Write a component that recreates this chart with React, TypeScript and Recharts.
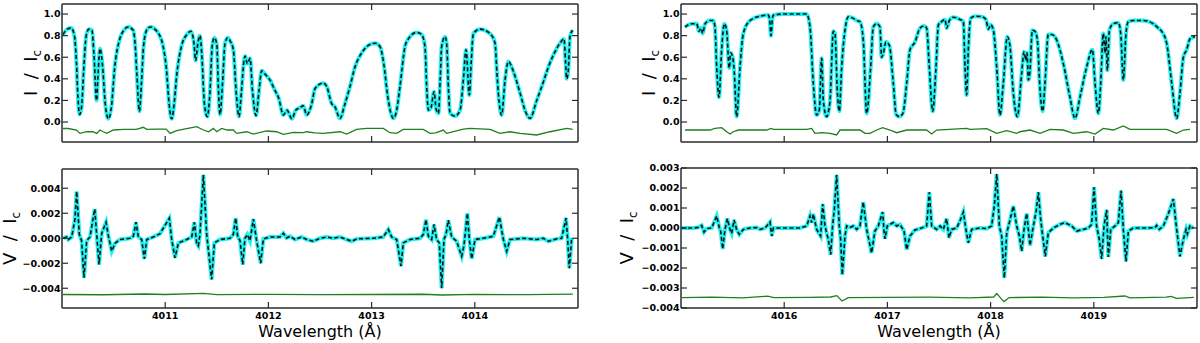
import React from "react";
import { LineChart, Line, XAxis, YAxis } from "recharts";

type Pt = [number, number];

// axis ticks
const leftWaveTicks = [4011, 4012, 4013, 4014];
const rightWaveTicks = [4016, 4017, 4018, 4019];
const intensityTicks = [0, 0.2, 0.4, 0.6, 0.8, 1.0];
const stokesTicksLeft = [-0.004, -0.002, 0, 0.002, 0.004];
const stokesTicksRight = [-0.004, -0.003, -0.002, -0.001, 0, 0.001, 0.002, 0.003];

// Stokes I, 4010-4015 A (observed and fit share this profile)
const iLeft: Pt[] = [
  [4010.01, 0.81], [4010.05, 0.86], [4010.09, 0.87], [4010.12, 0.8], [4010.14, 0.55],
  [4010.155, 0.22], [4010.17, 0.07], [4010.19, 0.14], [4010.21, 0.48], [4010.235, 0.8],
  [4010.26, 0.86], [4010.29, 0.85], [4010.31, 0.62], [4010.335, 0.2], [4010.35, 0.45],
  [4010.368, 0.68], [4010.39, 0.55], [4010.42, 0.16], [4010.45, 0.03], [4010.48, 0.15],
  [4010.51, 0.5], [4010.56, 0.77], [4010.6, 0.85], [4010.64, 0.88], [4010.69, 0.85],
  [4010.71, 0.7], [4010.725, 0.45], [4010.75, 0.1], [4010.77, 0.36], [4010.79, 0.7],
  [4010.82, 0.85], [4010.855, 0.88], [4010.92, 0.84], [4010.98, 0.7], [4011.01, 0.51],
  [4011.04, 0.15], [4011.063, 0.03], [4011.09, 0.2], [4011.11, 0.42], [4011.16, 0.71],
  [4011.21, 0.81], [4011.25, 0.84], [4011.28, 0.72], [4011.295, 0.57], [4011.315, 0.72],
  [4011.337, 0.8], [4011.355, 0.62], [4011.38, 0.17], [4011.408, 0.05], [4011.435, 0.3],
  [4011.455, 0.7], [4011.476, 0.78], [4011.5, 0.72], [4011.515, 0.32], [4011.531, 0.07],
  [4011.555, 0.35], [4011.58, 0.73], [4011.605, 0.78], [4011.63, 0.75], [4011.66, 0.67],
  [4011.69, 0.25], [4011.715, 0.05], [4011.74, 0.3], [4011.765, 0.58], [4011.775, 0.61],
  [4011.796, 0.54], [4011.822, 0.59], [4011.845, 0.3], [4011.88, 0.06], [4011.91, 0.3],
  [4011.935, 0.475], [4011.97, 0.44], [4012.015, 0.39], [4012.06, 0.3], [4012.1, 0.22],
  [4012.145, 0.065], [4012.18, 0.11], [4012.228, 0.03], [4012.265, 0.11], [4012.3, 0.13],
  [4012.338, 0.15], [4012.371, 0.065], [4012.42, 0.17], [4012.452, 0.31], [4012.532, 0.36],
  [4012.565, 0.33], [4012.613, 0.17], [4012.645, 0.14], [4012.694, 0.034], [4012.742, 0.17],
  [4012.791, 0.33], [4012.839, 0.51], [4012.904, 0.64], [4012.968, 0.71], [4013.033, 0.73],
  [4013.081, 0.7], [4013.113, 0.57], [4013.162, 0.2], [4013.211, 0.034], [4013.243, 0.11],
  [4013.275, 0.33], [4013.324, 0.7], [4013.356, 0.77], [4013.437, 0.83], [4013.485, 0.81],
  [4013.517, 0.7], [4013.535, 0.3], [4013.55, 0.11], [4013.575, 0.13], [4013.605, 0.28],
  [4013.625, 0.12], [4013.647, 0.08], [4013.665, 0.4], [4013.679, 0.7], [4013.711, 0.79],
  [4013.727, 0.73], [4013.745, 0.3], [4013.76, 0.08], [4013.808, 0.055], [4013.857, 0.11],
  [4013.89, 0.4], [4013.915, 0.67], [4013.947, 0.25], [4013.965, 0.55], [4013.986, 0.82],
  [4014.05, 0.86], [4014.147, 0.82], [4014.196, 0.73], [4014.215, 0.45], [4014.228, 0.27],
  [4014.26, 0.065], [4014.293, 0.39], [4014.325, 0.56], [4014.373, 0.47], [4014.438, 0.27],
  [4014.49, 0.1], [4014.535, 0.034], [4014.6, 0.2], [4014.664, 0.37], [4014.713, 0.51],
  [4014.761, 0.62], [4014.826, 0.73], [4014.864, 0.77], [4014.88, 0.55], [4014.89, 0.4],
  [4014.906, 0.48], [4014.922, 0.79], [4014.948, 0.85],
];

const iLeftResid: Pt[] = [
  [4010.01, -0.06], [4010.06, -0.06], [4010.14, -0.074], [4010.174, -0.105], [4010.24, -0.09],
  [4010.3, -0.09], [4010.336, -0.105], [4010.368, -0.074], [4010.4, -0.09], [4010.433, -0.105],
  [4010.498, -0.074], [4010.6, -0.068], [4010.72, -0.068], [4010.788, -0.049], [4010.82, -0.068],
  [4010.92, -0.065], [4011.01, -0.065], [4011.047, -0.105], [4011.111, -0.08], [4011.208, -0.062],
  [4011.305, -0.043], [4011.37, -0.074], [4011.42, -0.09], [4011.467, -0.059], [4011.5, -0.09],
  [4011.547, -0.059], [4011.6, -0.074], [4011.66, -0.074], [4011.693, -0.105], [4011.79, -0.09],
  [4011.854, -0.111], [4011.983, -0.083], [4012.08, -0.09], [4012.145, -0.114], [4012.242, -0.096],
  [4012.338, -0.099], [4012.371, -0.09], [4012.45, -0.1], [4012.532, -0.105], [4012.694, -0.09],
  [4012.758, -0.111], [4012.855, -0.068], [4012.952, -0.059], [4013.113, -0.059], [4013.178, -0.099],
  [4013.243, -0.105], [4013.307, -0.068], [4013.5, -0.068], [4013.566, -0.105], [4013.62, -0.1],
  [4013.695, -0.074], [4013.727, -0.105], [4013.889, -0.065], [4013.953, -0.059], [4014.147, -0.068],
  [4014.244, -0.105], [4014.34, -0.09], [4014.438, -0.105], [4014.6, -0.12], [4014.729, -0.09],
  [4014.89, -0.059], [4014.948, -0.068],
];

// Stokes V, 4010-4015 A
const vLeft: Pt[] = [
  [4010.013, 0], [4010.045, 0.0001], [4010.061, -0.0001], [4010.094, 0.0001], [4010.125, 0.0015],
  [4010.142, 0.00375], [4010.168, 0.0003], [4010.19, -0.0002], [4010.213, -0.00316], [4010.239, -0.0002],
  [4010.271, 0.0001], [4010.317, 0.00234], [4010.336, 0.0003], [4010.359, -0.0021], [4010.385, 0.0004],
  [4010.427, 0.00128], [4010.45, 0.00016], [4010.482, -0.00104], [4010.514, -0.0004], [4010.562, -0.0001],
  [4010.659, 0], [4010.691, 0.00016], [4010.717, 0.00128], [4010.74, 0.0001], [4010.772, -0.0001],
  [4010.798, -0.00165], [4010.821, -0.0001], [4010.885, 0.0001], [4010.95, 0.00037], [4011.04, 0.0016],
  [4011.063, -0.0001], [4011.095, -0.00157], [4011.128, -0.00037], [4011.208, -0.0001], [4011.257, 0.0001],
  [4011.283, 0.00128], [4011.305, -0.0004], [4011.321, -0.0006], [4011.337, 0.0003], [4011.37, 0.00508],
  [4011.402, 0.0003], [4011.45, -0.0033], [4011.476, -0.00037], [4011.531, -0.0001], [4011.628, 0],
  [4011.66, 0.0003], [4011.683, 0.00162], [4011.702, 0.00016], [4011.725, -0.0002], [4011.751, -0.0021],
  [4011.773, 0], [4011.796, 0.0003], [4011.822, -0.0002], [4011.854, 0.00154], [4011.886, -0.0002],
  [4011.925, -0.002], [4011.951, -0.00005], [4012.015, 0.0001], [4012.112, 0.0001], [4012.145, 0.0004],
  [4012.177, 0.00003], [4012.209, 0.00016], [4012.258, -0.0001], [4012.322, 0.0001], [4012.371, -0.0001],
  [4012.436, -0.00024], [4012.5, 0], [4012.565, 0.0001], [4012.629, 0], [4012.694, 0.0001],
  [4012.758, -0.0001], [4012.807, -0.00024], [4012.855, -0.00005], [4013.017, 0], [4013.113, 0.0001],
  [4013.162, 0.0007], [4013.194, 0.0001], [4013.243, -0.0001], [4013.285, -0.00223], [4013.307, -0.00037],
  [4013.372, -0.0001], [4013.469, 0], [4013.501, 0.0003], [4013.527, 0.0015], [4013.55, 0.00016],
  [4013.582, -0.0001], [4013.605, 0.0011], [4013.63, -0.0001], [4013.656, -0.00037], [4013.679, -0.004],
  [4013.701, -0.0001], [4013.721, 0.0003], [4013.743, 0.00144], [4013.776, 0.0001], [4013.824, -0.00024],
  [4013.873, -0.00144], [4013.895, -0.0006], [4013.928, 0.002], [4013.947, -0.0001], [4013.97, -0.00165],
  [4014.002, -0.0001], [4014.083, 0], [4014.18, 0.00016], [4014.238, 0.0017], [4014.277, -0.0001],
  [4014.309, -0.00104], [4014.341, -0.0001], [4014.47, 0], [4014.6, -0.0001], [4014.664, 0],
  [4014.713, -0.00024], [4014.794, -0.00005], [4014.842, 0], [4014.884, 0.00162], [4014.9, -0.0001],
  [4014.916, -0.0024], [4014.938, -0.0001], [4014.948, 0],
];

const vLeftResid: Pt[] = [
  [4010.01, -0.0045], [4010.4, -0.00452], [4010.8, -0.00446], [4011.0, -0.0045], [4011.37, -0.00441],
  [4011.5, -0.00451], [4012.0, -0.00449], [4012.5, -0.00451], [4013.0, -0.0045], [4013.5, -0.00448],
  [4013.68, -0.00454], [4014.0, -0.00449], [4014.5, -0.00451], [4014.95, -0.00447],
];

// Stokes I, 4015-4020 A
const iRight: Pt[] = [
  [4015.039, 0.88], [4015.103, 0.91], [4015.152, 0.91], [4015.174, 0.84], [4015.194, 0.87],
  [4015.21, 0.82], [4015.233, 0.91], [4015.281, 0.94], [4015.313, 0.94], [4015.329, 0.88],
  [4015.346, 0.51], [4015.368, 0.23], [4015.394, 0.67], [4015.42, 0.91], [4015.442, 0.85],
  [4015.468, 0.5], [4015.481, 0.64], [4015.501, 0.6], [4015.517, 0.45], [4015.539, 0.05],
  [4015.572, 0.51], [4015.604, 0.82], [4015.669, 0.94], [4015.766, 0.98], [4015.846, 0.99],
  [4015.859, 0.95], [4015.872, 0.8], [4015.885, 0.95], [4015.895, 0.99], [4015.992, 1.0],
  [4016.218, 1.0], [4016.25, 0.88], [4016.282, 0.36], [4016.314, 0.065], [4016.34, 0.11],
  [4016.363, 0.59], [4016.379, 0.2], [4016.411, 0.05], [4016.444, 0.2], [4016.476, 0.84],
  [4016.492, 0.82], [4016.515, 0.28], [4016.534, 0.1], [4016.557, 0.51], [4016.589, 0.85],
  [4016.621, 0.975], [4016.67, 0.96], [4016.702, 0.94], [4016.734, 0.93], [4016.766, 0.76],
  [4016.799, 0.08], [4016.838, 0.51], [4016.863, 0.88], [4016.896, 0.91], [4016.928, 0.88],
  [4016.944, 0.6], [4016.961, 0.64], [4016.986, 0.74], [4017.019, 0.71], [4017.057, 0.36],
  [4017.085, 0.07], [4017.115, 0.05], [4017.15, 0.08], [4017.187, 0.36], [4017.219, 0.67],
  [4017.267, 0.74], [4017.316, 0.87], [4017.355, 0.89], [4017.38, 0.87], [4017.406, 0.51],
  [4017.439, 0.1], [4017.471, 0.51], [4017.494, 0.9], [4017.526, 0.93], [4017.558, 0.95],
  [4017.574, 0.87], [4017.6, 0.94], [4017.639, 0.97], [4017.703, 0.95], [4017.736, 0.93],
  [4017.752, 0.51], [4017.768, 0.25], [4017.784, 0.67], [4017.807, 0.96], [4017.849, 0.98],
  [4017.913, 0.975], [4017.955, 0.95], [4017.978, 0.86], [4018.001, 0.9], [4018.027, 0.85],
  [4018.059, 0.51], [4018.091, 0.065], [4018.123, 0.36], [4018.162, 0.79], [4018.188, 0.7],
  [4018.22, 0.27], [4018.259, 0.05], [4018.301, 0.45], [4018.324, 0.65], [4018.343, 0.57],
  [4018.353, 0.64], [4018.366, 0.39], [4018.382, 0.48], [4018.404, 0.85], [4018.43, 0.84],
  [4018.453, 0.76], [4018.479, 0.3], [4018.504, 0.1], [4018.527, 0.36], [4018.559, 0.81],
  [4018.592, 0.81], [4018.64, 0.76], [4018.705, 0.54], [4018.769, 0.23], [4018.818, 0.034],
  [4018.866, 0.23], [4018.931, 0.51], [4018.986, 0.67], [4019.012, 0.36], [4019.044, 0.08],
  [4019.067, 0.36], [4019.092, 0.82], [4019.109, 0.64], [4019.118, 0.79], [4019.131, 0.48],
  [4019.151, 0.85], [4019.189, 0.91], [4019.238, 0.92], [4019.261, 0.82], [4019.286, 0.39],
  [4019.312, 0.82], [4019.335, 0.93], [4019.383, 0.94], [4019.48, 0.94], [4019.577, 0.91],
  [4019.625, 0.87], [4019.658, 0.84], [4019.706, 0.73], [4019.755, 0.36], [4019.803, 0.034],
  [4019.835, 0.27], [4019.868, 0.6], [4019.9, 0.67], [4019.932, 0.77], [4019.981, 0.79],
];

const iRightResid: Pt[] = [
  [4015.039, -0.074], [4015.281, -0.074], [4015.329, -0.059], [4015.394, -0.052], [4015.442, -0.09],
  [4015.475, -0.111], [4015.507, -0.09], [4015.555, -0.074], [4015.83, -0.074], [4015.872, -0.059],
  [4015.895, -0.068], [4016.218, -0.068], [4016.266, -0.059], [4016.298, -0.105], [4016.363, -0.099],
  [4016.444, -0.105], [4016.508, -0.12], [4016.541, -0.074], [4016.734, -0.074], [4016.783, -0.105],
  [4016.831, -0.105], [4016.896, -0.074], [4016.954, -0.052], [4017.025, -0.074], [4017.09, -0.099],
  [4017.187, -0.074], [4017.38, -0.074], [4017.429, -0.111], [4017.477, -0.074], [4017.768, -0.059],
  [4017.8, -0.068], [4017.962, -0.062], [4018.059, -0.105], [4018.156, -0.08], [4018.253, -0.105],
  [4018.285, -0.09], [4018.382, -0.074], [4018.479, -0.105], [4018.576, -0.068], [4018.705, -0.074],
  [4018.802, -0.105], [4018.931, -0.09], [4019.012, -0.111], [4019.092, -0.059], [4019.189, -0.074],
  [4019.286, -0.037], [4019.351, -0.068], [4019.706, -0.068], [4019.803, -0.105], [4019.868, -0.074],
  [4019.932, -0.068],
];

// Stokes V, 4015-4020 A
const vRight: Pt[] = [
  [4015.006, 0], [4015.119, 0], [4015.168, 0.00003], [4015.2, 0.00013], [4015.223, -0.0002],
  [4015.249, -0.00003], [4015.297, 0], [4015.346, 0.0006], [4015.372, 0], [4015.384, -0.00015],
  [4015.404, -0.00105], [4015.426, -0.00007], [4015.449, 0.00047], [4015.475, -0.00007], [4015.491, -0.00027],
  [4015.514, 0.0004], [4015.539, -0.00007], [4015.565, -0.00032], [4015.604, -0.00007], [4015.669, 0],
  [4015.734, 0.00002], [4015.766, -0.00007], [4015.814, 0], [4015.863, 0.0003], [4015.879, -0.0004],
  [4015.895, 0], [4016.153, 0], [4016.218, 0.0001], [4016.25, 0.0006], [4016.266, 0.00027],
  [4016.282, 0.0007], [4016.314, -0.00007], [4016.353, -0.0004], [4016.373, 0.0012], [4016.395, 0.0001],
  [4016.427, -0.00057], [4016.45, -0.00133], [4016.469, 0.0001], [4016.486, 0.00094], [4016.508, 0.00266],
  [4016.534, 0.0001], [4016.547, -0.00057], [4016.563, -0.00234], [4016.589, -0.0004], [4016.605, 0.0001],
  [4016.637, 0.00002], [4016.67, 0.0001], [4016.702, -0.00007], [4016.734, 0.0001], [4016.766, 0.0013],
  [4016.799, -0.00007], [4016.847, -0.00125], [4016.879, -0.00015], [4016.912, 0.0001], [4016.954, 0.0008],
  [4016.967, -0.00015], [4016.977, -0.00054], [4016.999, 0.0001], [4017.025, 0.00018], [4017.057, 0.00027],
  [4017.09, 0.0001], [4017.122, 0.00017], [4017.161, -0.00015], [4017.187, -0.00108], [4017.219, -0.0004],
  [4017.267, -0.0001], [4017.316, -0.00003], [4017.38, 0.0001], [4017.406, 0.00179], [4017.429, 0.0001],
  [4017.477, -0.00007], [4017.51, 0.0001], [4017.542, -0.00007], [4017.574, 0.00047], [4017.597, -0.00049],
  [4017.623, -0.00007], [4017.671, 0], [4017.703, 0.00035], [4017.736, 0.0008], [4017.761, -0.00007],
  [4017.784, -0.00074], [4017.817, -0.00007], [4017.897, 0], [4017.962, -0.00003], [4018.01, 0.0001],
  [4018.036, 0.0011], [4018.059, 0.0027], [4018.085, 0.0001], [4018.107, -0.0004], [4018.133, -0.0025],
  [4018.156, -0.00024], [4018.182, 0.00027], [4018.22, 0.0011], [4018.253, 0.0001], [4018.279, -0.0004],
  [4018.301, -0.00116], [4018.324, -0.00007], [4018.35, 0.00073], [4018.366, -0.00007], [4018.382, -0.00088],
  [4018.414, 0.0001], [4018.44, 0.00078], [4018.463, 0.00179], [4018.485, 0.00044], [4018.505, -0.0004],
  [4018.53, -0.00142], [4018.559, -0.00024], [4018.608, 0], [4018.672, 0.00018], [4018.72, 0.00027],
  [4018.785, 0.0001], [4018.834, -0.00015], [4018.898, -0.00007], [4018.947, 0], [4018.979, 0.00018],
  [4019.002, 0.00204], [4019.027, 0.0001], [4019.053, -0.00057], [4019.076, -0.00155], [4019.099, 0.0001],
  [4019.125, 0.00091], [4019.134, -0.00057], [4019.141, -0.00145], [4019.164, -0.00007], [4019.206, 0.0001],
  [4019.238, 0.00027], [4019.264, 0.00187], [4019.286, -0.00007], [4019.312, -0.00167], [4019.335, -0.00015],
  [4019.383, 0], [4019.512, 0], [4019.593, 0.00002], [4019.609, 0.00013], [4019.635, -0.00007],
  [4019.674, 0.0001], [4019.722, 0.0007], [4019.771, 0.00145], [4019.803, -0.00007], [4019.835, -0.00142],
  [4019.868, -0.00057], [4019.894, -0.00007], [4019.906, -0.0003], [4019.932, 0.0001], [4019.965, 0],
];

const vRightResid: Pt[] = [
  [4015.01, -0.00348], [4015.3, -0.00346], [4015.6, -0.00349], [4015.84, -0.00341], [4015.9, -0.00348],
  [4016.25, -0.00347], [4016.45, -0.00345], [4016.51, -0.00338], [4016.56, -0.00365], [4016.62, -0.00348],
  [4017.0, -0.00347], [4017.4, -0.00346], [4017.8, -0.00349], [4018.03, -0.00345], [4018.06, -0.00328],
  [4018.1, -0.00352], [4018.13, -0.00368], [4018.18, -0.00348], [4018.5, -0.00346], [4018.8, -0.00349],
  [4019.1, -0.00347], [4019.3, -0.0034], [4019.35, -0.00349], [4019.7, -0.00346], [4019.75, -0.00342],
  [4019.8, -0.00352], [4019.97, -0.00347],
];

const rows = (pts: Pt[]) => pts.map(([w, v]) => ({ w, v }));

const FRAME = "#2b2b2b";
const TICK = 6;
const Y_AXIS_W = 72; // room for tick labels and the rotated axis title
const TOP_PAD = 10;
const FONT = "DejaVu Sans";

const fmtI = (v: number) => v.toFixed(1);
const fmtV = (v: number) => (v < 0 ? "\u2212" : "") + Math.abs(v).toFixed(3);

const tickText = { fontFamily: FONT, fontWeight: 700, fontSize: 9.5, fill: "#000" };

const bottomTick = (withLabel: boolean) => (p: any) => (
  <g>
    <line x1={p.x} y1={p.y} x2={p.x} y2={p.y - TICK} stroke={FRAME} strokeWidth={1.2} />
    {withLabel && (
      <text x={p.x} y={p.y + 11} textAnchor="middle" {...tickText}>
        {p.payload.value}
      </text>
    )}
  </g>
);

const topTick = (p: any) => (
  <line x1={p.x} y1={p.y} x2={p.x} y2={p.y + TICK} stroke={FRAME} strokeWidth={1.2} />
);

const leftTick = (fmt: (v: number) => string) => (p: any) => (
  <g>
    <line x1={p.x} y1={p.y} x2={p.x + TICK} y2={p.y} stroke={FRAME} strokeWidth={1.2} />
    <text x={p.x - 1.5} y={p.y} dy="0.36em" textAnchor="end" {...tickText}>
      {fmt(p.payload.value)}
    </text>
  </g>
);

const rightTick = (p: any) => (
  <line x1={p.x} y1={p.y} x2={p.x - TICK} y2={p.y} stroke={FRAME} strokeWidth={1.2} />
);

// dx: baseline of the rotated title, measured from the plot's left edge
const yLabel = (letter: string, dx: number) => (props: any) => {
  const { x, y, width, height } = props.viewBox;
  const cx = x + width + dx;
  const cy = y + height / 2;
  return (
    <text
      x={cx}
      y={cy}
      transform={`rotate(-90 ${cx} ${cy})`}
      textAnchor="middle"
      fontFamily={FONT}
      fontSize={18}
      fill="#000"
      style={{ whiteSpace: "pre" }}
    >
      {`${letter}  /  I`}
      <tspan fontSize={12} dy={4}>c</tspan>
    </text>
  );
};

const xLabel = (props: any) => {
  const { x, y, width } = props.viewBox;
  return (
    <text x={x + width / 2} y={y + 29} textAnchor="middle" fontFamily={FONT} fontSize={16} fill="#000">
      Wavelength (Å)
    </text>
  );
};

interface PanelProps {
  plotLeft: number;
  plotTop: number;
  plotW: number;
  plotH: number;
  xDomain: [number, number];
  xTicks: number[];
  yDomain: [number, number];
  yTicks: number[];
  yFmt: (v: number) => string;
  spec: Pt[];
  resid: Pt[];
  bottom: boolean;
  letter: string;
  labelDx: number;
  smooth: boolean;
}

function Panel(p: PanelProps) {
  const bottomH = p.bottom ? 35 : 2;
  const width = Y_AXIS_W + p.plotW + 3;
  const height = TOP_PAD + p.plotH + bottomH;
  const spec = rows(p.spec);
  const resid = rows(p.resid);
  const curve = p.smooth ? "monotone" : "linear";
  return (
    <div style={{ position: "absolute", left: p.plotLeft - Y_AXIS_W, top: p.plotTop - TOP_PAD }}>
      <LineChart width={width} height={height} margin={{ top: TOP_PAD - 1, right: 2, bottom: 1, left: 0 }}>
        <XAxis
          xAxisId="b"
          dataKey="w"
          type="number"
          domain={p.xDomain}
          ticks={p.xTicks}
          allowDataOverflow
          interval={0}
          height={bottomH - 1}
          tickSize={0}
          tickMargin={0}
          tickLine={false}
          axisLine={{ stroke: FRAME, strokeWidth: 1.5 }}
          tick={bottomTick(p.bottom)}
          label={p.bottom ? xLabel : undefined}
        />
        <XAxis
          xAxisId="t"
          orientation="top"
          dataKey="w"
          type="number"
          domain={p.xDomain}
          ticks={p.xTicks}
          allowDataOverflow
          interval={0}
          height={1}
          tickSize={0}
          tickMargin={0}
          tickLine={false}
          axisLine={{ stroke: FRAME, strokeWidth: 1.5 }}
          tick={topTick}
        />
        <YAxis
          yAxisId="l"
          type="number"
          domain={p.yDomain}
          ticks={p.yTicks}
          allowDataOverflow
          interval={0}
          width={Y_AXIS_W}
          tickSize={0}
          tickMargin={0}
          tickLine={false}
          axisLine={{ stroke: FRAME, strokeWidth: 1.5 }}
          tick={leftTick(p.yFmt)}
          label={yLabel(p.letter, p.labelDx)}
        />
        <YAxis
          yAxisId="r"
          orientation="right"
          type="number"
          domain={p.yDomain}
          ticks={p.yTicks}
          allowDataOverflow
          interval={0}
          width={1}
          tickSize={0}
          tickMargin={0}
          tickLine={false}
          axisLine={{ stroke: FRAME, strokeWidth: 1.5 }}
          tick={rightTick}
        />
        <Line
          xAxisId="b"
          yAxisId="l"
          data={resid}
          dataKey="v"
          type="linear"
          stroke="#1d7f1d"
          strokeWidth={1.3}
          dot={false}
          activeDot={false}
          isAnimationActive={false}
        />
        <Line
          xAxisId="b"
          yAxisId="l"
          data={spec}
          dataKey="v"
          type={curve}
          stroke="#1ff0f0"
          strokeWidth={4}
          dot={false}
          activeDot={false}
          isAnimationActive={false}
        />
        <Line
          xAxisId="b"
          yAxisId="l"
          data={spec}
          dataKey="v"
          type={curve}
          stroke="#111"
          strokeWidth={1.6}
          strokeDasharray="4 2.5"
          dot={false}
          activeDot={false}
          isAnimationActive={false}
        />
      </LineChart>
    </div>
  );
}

export default function App() {
  return (
    <div style={{ position: "absolute", left: 0, top: 0, width: 1200, height: 343, overflow: "hidden", background: "#fff" }}>
      <Panel
        plotLeft={62} plotTop={4} plotW={516} plotH={138}
        xDomain={[4010, 4015]} xTicks={leftWaveTicks}
        yDomain={[-0.185, 1.093]} yTicks={intensityTicks} yFmt={fmtI}
        spec={iLeft} resid={iLeftResid} bottom={false} letter="I" labelDx={-25} smooth
      />
      <Panel
        plotLeft={62} plotTop={169} plotW={516} plotH={139}
        xDomain={[4010, 4015]} xTicks={leftWaveTicks}
        yDomain={[-0.00558, 0.00554]} yTicks={stokesTicksLeft} yFmt={fmtV}
        spec={vLeft} resid={vLeftResid} bottom letter="V" labelDx={-46} smooth={false}
      />
      <Panel
        plotLeft={681} plotTop={4} plotW={516} plotH={138}
        xDomain={[4015, 4020]} xTicks={rightWaveTicks}
        yDomain={[-0.185, 1.093]} yTicks={intensityTicks} yFmt={fmtI}
        spec={iRight} resid={iRightResid} bottom={false} letter="I" labelDx={-26} smooth
      />
      <Panel
        plotLeft={681} plotTop={168} plotW={516} plotH={140}
        xDomain={[4015, 4020]} xTicks={rightWaveTicks}
        yDomain={[-0.004, 0.003]} yTicks={stokesTicksRight} yFmt={fmtV}
        spec={vRight} resid={vRightResid} bottom letter="V" labelDx={-48} smooth={false}
      />
    </div>
  );
}
